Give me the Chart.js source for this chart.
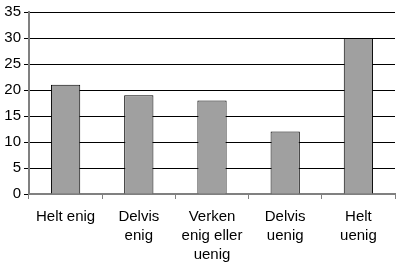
<!DOCTYPE html>
<html>
<head>
<meta charset="utf-8">
<script src="https://cdn.jsdelivr.net/npm/chart.js@4"></script>
<style>
  html, body { margin: 0; padding: 0; background: #fff; }
  #wrap { width: 400px; height: 266px; }
</style>
</head>
<body>
<div id="wrap"><canvas id="barChart" width="400" height="266"></canvas></div>
<script>
    // Data
    const categories = [
        ['Helt enig'],
        ['Delvis', 'enig'],
        ['Verken', 'enig eller', 'uenig'],
        ['Delvis', 'uenig'],
        ['Helt', 'uenig']
    ];
    const values = [21, 19, 18, 12, 30];
    const yTicks = [0, 5, 10, 15, 20, 25, 30, 35];

    const ctx = document.getElementById('barChart').getContext('2d');
    new Chart(ctx, {
        type: 'bar',
        data: {
            labels: categories,
            datasets: [{
                data: values,
                backgroundColor: '#a0a0a0',
                borderColor: '#000',
                borderWidth: 1,
                barPercentage: 0.4,
                categoryPercentage: 1
            }]
        },
        options: {
            responsive: false,
            animation: false,
            layout: { padding: { top: 10, right: 5, left: 0, bottom: 0 } },
            plugins: {
                legend: { display: false },
                tooltip: { enabled: false }
            },
            scales: {
                x: {
                    offset: true,
                    grid: {
                        offset: true,
                        drawOnChartArea: false,
                        drawTicks: true,
                        tickLength: 5,
                        color: '#808080'
                    },
                    border: { color: '#808080', width: 2 },
                    ticks: {
                        color: '#000',
                        maxRotation: 0,
                        autoSkip: false,
                        padding: 8,
                        font: { family: 'Liberation Sans', size: 15, lineHeight: 1.27 }
                    },
                    afterFit: scale => { scale.height = 72; }
                },
                y: {
                    min: 0,
                    max: 35,
                    afterBuildTicks: scale => { scale.ticks = yTicks.map(v => ({ value: v })); },
                    grid: {
                        color: '#000',
                        lineWidth: 1,
                        tickLength: 5
                    },
                    border: { color: '#808080', width: 2 },
                    ticks: {
                        color: '#000',
                        padding: 3,
                        font: { family: 'Liberation Sans', size: 15 }
                    },
                    afterFit: scale => { scale.width = 29; }
                }
            }
        }
    });
</script>
</body>
</html>
